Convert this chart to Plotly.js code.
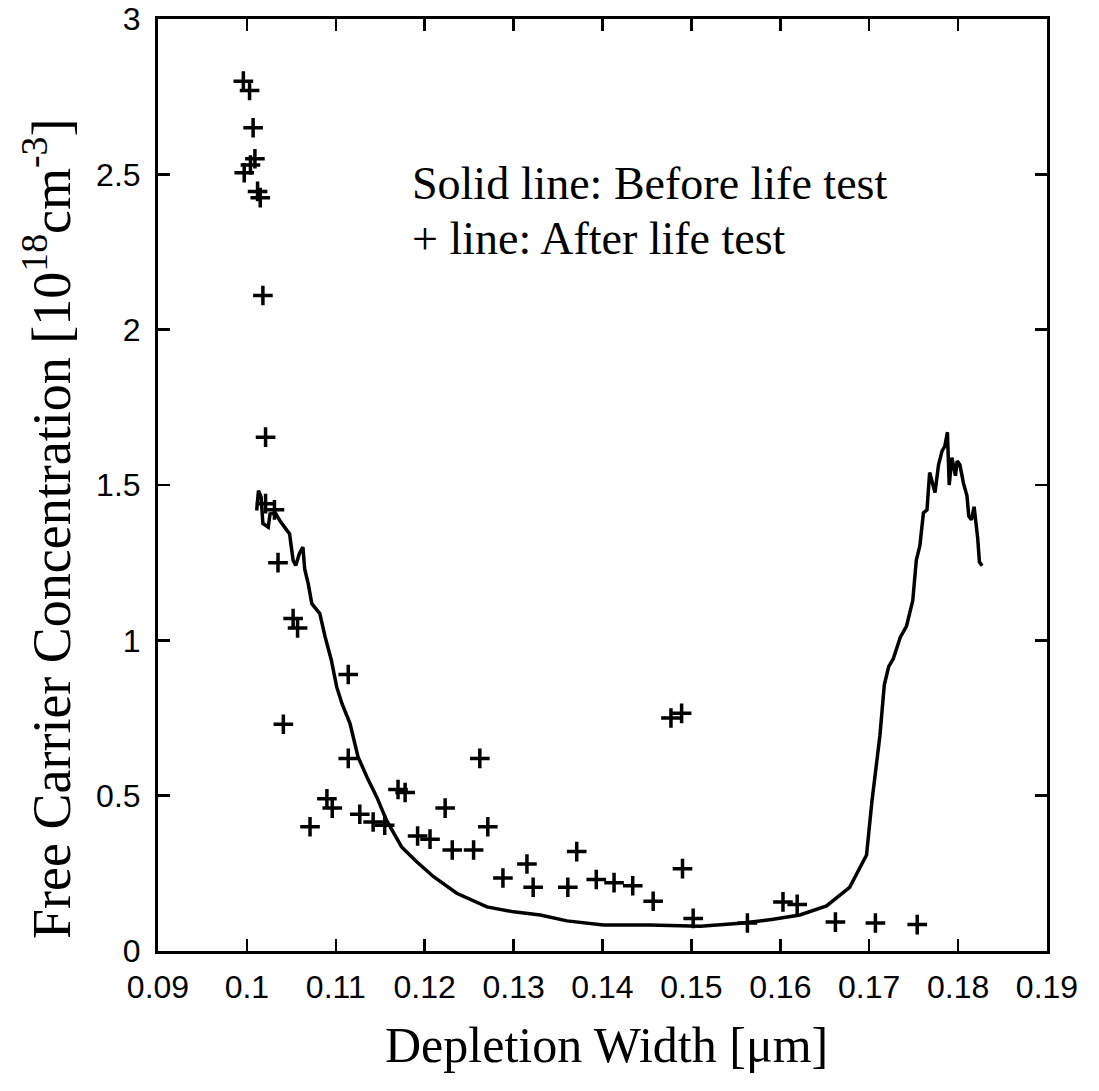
<!DOCTYPE html>
<html>
<head>
<meta charset="utf-8">
<script src="https://cdn.plot.ly/plotly-3.0.1.min.js"></script>
<style>
  html, body { margin: 0; padding: 0; background: #fff; }
  #chart { width: 1099px; height: 1091px; }
</style>
</head>
<body>
<div id="chart"></div>
<script>
// Solid line: before life test
const beforeX = [0.1011,0.1013,0.1016,0.1018,0.1024,0.1026,0.1032,0.1037,0.1045,0.1048,0.1052,0.1055,0.1059,0.1063,0.1065,0.1069,0.1073,0.1082,0.1088,0.1095,0.1101,0.1107,0.1116,0.1125,0.1135,0.1146,0.1157,0.1165,0.1174,0.1191,0.1210,0.1236,0.1270,0.1300,0.1330,0.1360,0.1401,0.1453,0.1510,0.1555,0.1592,0.1622,0.1652,0.1678,0.1697,0.1703,0.1708,0.1712,0.1717,0.1722,0.1727,0.1735,0.1742,0.1749,0.1753,0.1757,0.1761,0.1765,0.1768,0.1774,0.1778,0.1782,0.1785,0.1788,0.1790,0.1793,0.1797,0.1799,0.1802,0.1806,0.1810,0.1812,0.1815,0.1818,0.1822,0.1824,0.1827];
const beforeY = [1.418,1.482,1.461,1.376,1.364,1.407,1.410,1.386,1.354,1.343,1.257,1.241,1.279,1.300,1.230,1.182,1.118,1.086,1.011,0.936,0.850,0.796,0.732,0.625,0.560,0.496,0.421,0.378,0.335,0.287,0.239,0.186,0.142,0.126,0.116,0.097,0.084,0.084,0.080,0.089,0.102,0.116,0.145,0.205,0.309,0.480,0.610,0.692,0.857,0.916,0.940,1.010,1.046,1.128,1.258,1.305,1.410,1.420,1.540,1.476,1.565,1.610,1.624,1.670,1.500,1.588,1.530,1.577,1.565,1.506,1.465,1.400,1.388,1.430,1.330,1.252,1.240];

// + markers: after life test
const afterX = [0.0996,0.1003,0.1007,0.1009,0.1004,0.0997,0.1012,0.1015,0.1018,0.1021,0.1021,0.1031,0.1035,0.1052,0.1057,0.1041,0.1114,0.1114,0.1071,0.1090,0.1096,0.1127,0.1142,0.1155,0.1170,0.1178,0.1192,0.1206,0.1223,0.1231,0.1255,0.1262,0.1271,0.1288,0.1315,0.1322,0.1361,0.1371,0.1393,0.1413,0.1434,0.1457,0.1477,0.1489,0.1490,0.1502,0.1563,0.1603,0.1619,0.1662,0.1707,0.1754];
const afterY = [2.80,2.77,2.65,2.55,2.53,2.505,2.445,2.425,2.11,1.654,1.44,1.42,1.25,1.07,1.04,0.73,0.89,0.62,0.40,0.49,0.46,0.44,0.415,0.405,0.52,0.51,0.37,0.36,0.46,0.325,0.325,0.62,0.40,0.235,0.28,0.205,0.205,0.32,0.23,0.22,0.21,0.16,0.75,0.765,0.265,0.105,0.09,0.158,0.15,0.093,0.09,0.085];

const xTickVals = [0.09,0.10,0.11,0.12,0.13,0.14,0.15,0.16,0.17,0.18,0.19];
const xTickText = ['0.09','0.1','0.11','0.12','0.13','0.14','0.15','0.16','0.17','0.18','0.19'];
const yTickVals = [0,0.5,1,1.5,2,2.5,3];
const yTickText = ['0','0.5','1','1.5','2','2.5','3'];

const legendLine1 = 'Solid line: Before life test';
const legendLine2 = '+ line: After life test';
const xTitle = 'Depletion Width [\u03bcm]';
const yTitle = 'Free Carrier Concentration [10<sup>18</sup>cm<sup>-3</sup>]';

const serif = 'Liberation Serif, Times New Roman, serif';
const sans = 'Liberation Sans, Arial, Helvetica, sans-serif';

const traces = [
  {
    x: beforeX, y: beforeY, type: 'scatter', mode: 'lines',
    line: { color: '#000', width: 3.5 }, name: 'Before life test', hoverinfo: 'skip'
  },
  {
    x: afterX, y: afterY, type: 'scatter', mode: 'markers',
    marker: { symbol: 'cross-thin', size: 14, color: '#000', line: { color: '#000', width: 3.5 } },
    name: 'After life test', hoverinfo: 'skip'
  }
];

const axisCommon = {
  showgrid: false, zeroline: false, showline: true, linecolor: '#000', linewidth: 3,
  mirror: 'ticks', ticks: 'inside', ticklen: 12, tickwidth: 2.5, tickcolor: '#000',
  tickfont: { family: sans, size: 32, color: '#000' }
};

const layout = {
  width: 1099, height: 1091,
  margin: { l: 158, r: 52, t: 19, b: 140 },
  paper_bgcolor: '#fff', plot_bgcolor: '#fff',
  showlegend: false,
  xaxis: Object.assign({}, axisCommon, {
    range: [0.09, 0.19], tickmode: 'array', tickvals: xTickVals, ticktext: xTickText,
    ticklabelstandoff: 6
  }),
  yaxis: Object.assign({}, axisCommon, {
    range: [0, 3], tickmode: 'array', tickvals: yTickVals, ticktext: yTickText,
    ticklabelstandoff: 8
  }),
  annotations: [
    { xref: 'paper', yref: 'paper', x: 0.2835, y: 0.823, xanchor: 'left', yanchor: 'middle',
      text: legendLine1, showarrow: false, font: { family: serif, size: 46, color: '#000' } },
    { xref: 'paper', yref: 'paper', x: 0.2835, y: 0.765, xanchor: 'left', yanchor: 'middle',
      text: legendLine2, showarrow: false, font: { family: serif, size: 46, color: '#000' } },
    { xref: 'paper', yref: 'paper', x: 0.505, y: -0.101, xanchor: 'center', yanchor: 'middle',
      text: xTitle, showarrow: false, font: { family: serif, size: 50, color: '#000' } },
    { xref: 'paper', yref: 'paper', x: -0.1237, y: 0.4528, xanchor: 'center', yanchor: 'middle',
      textangle: -90, text: yTitle, showarrow: false, font: { family: serif, size: 54, color: '#000' } }
  ]
};

Plotly.newPlot('chart', traces, layout, { staticPlot: true, displayModeBar: false });
</script>
</body>
</html>
